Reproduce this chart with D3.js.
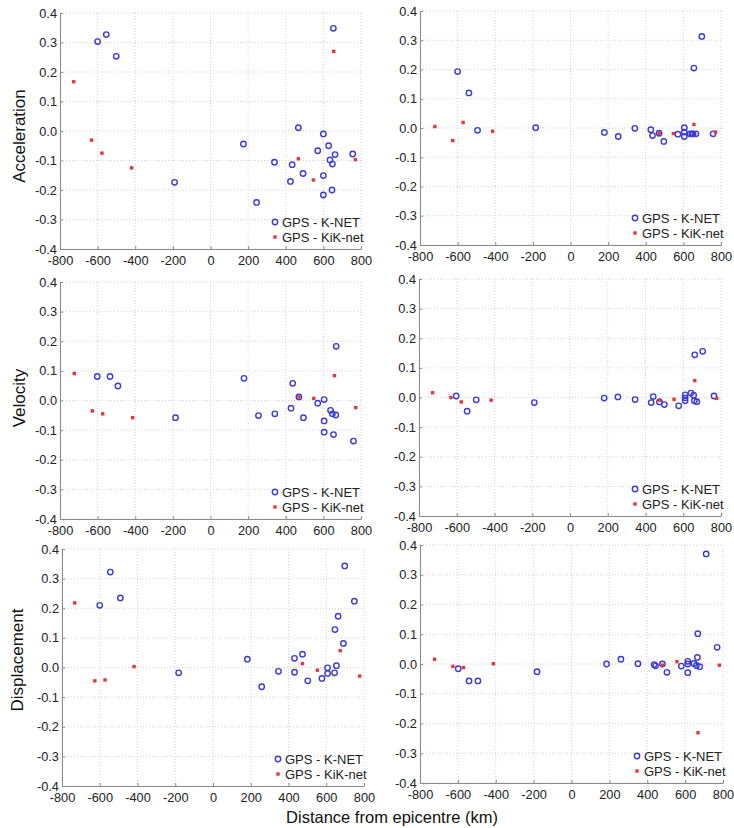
<!DOCTYPE html>
<html>
<head>
<meta charset="utf-8">
<script src="https://cdn.jsdelivr.net/npm/d3@7"></script>
<style>
  body { margin: 0; background: #fff; }
  svg { font-family: "Liberation Sans", Arial, sans-serif; }
</style>
</head>
<body>
<div id="chart"></div>
<script>
// tick values shared by every panel
var xTicks = [-800, -600, -400, -200, 0, 200, 400, 600, 800];
var yTicks = [-0.4, -0.3, -0.2, -0.1, 0, 0.1, 0.2, 0.3, 0.4];
var seriesNames = ["GPS - K-NET", "GPS - KiK-net"];
var rowLabels = ["Acceleration", "Velocity", "Displacement"];
var xLabel = "Distance from epicentre (km)";

// [distance km, value]
var accLeftKnet = [[-600,0.303],[-554,0.327],[-501,0.253],[-191,-0.174],[175,-0.044],[245,-0.242],[340,-0.106],[425,-0.171],[434,-0.114],[467,0.011],[492,-0.144],[570,-0.067],[600,-0.010],[600,-0.151],[600,-0.217],[628,-0.050],[635,-0.098],[648,-0.112],[646,-0.200],[653,0.348],[662,-0.080],[756,-0.078]];
var accLeftKik = [[-727,0.167],[-632,-0.031],[-577,-0.075],[-419,-0.125],[467,-0.094],[547,-0.166],[655,0.270],[770,-0.097]];

var accRightKnet = [[-600,0.193],[-540,0.120],[-494,-0.008],[-185,0.001],[180,-0.015],[254,-0.029],[342,-0.001],[427,-0.006],[436,-0.026],[471,-0.018],[496,-0.046],[571,-0.021],[605,0.001],[605,-0.014],[605,-0.029],[635,-0.020],[645,-0.020],[652,-0.020],[667,-0.020],[656,0.205],[698,0.313],[758,-0.020]];
var accRightKik = [[-721,0.005],[-626,-0.043],[-571,0.019],[-414,-0.011],[471,-0.018],[547,-0.019],[656,0.012],[771,-0.014]];

var velLeftKnet = [[-602,0.081],[-534,0.081],[-492,0.049],[-186,-0.058],[178,0.075],[255,-0.051],[342,-0.045],[428,-0.026],[437,0.058],[470,0.012],[494,-0.058],[570,-0.009],[604,0.003],[604,-0.069],[604,-0.107],[638,-0.033],[648,-0.045],[654,-0.115],[666,-0.049],[668,0.183],[760,-0.137]];
var velLeftKik = [[-724,0.091],[-628,-0.035],[-573,-0.045],[-414,-0.058],[470,0.012],[549,0.007],[659,0.084],[772,-0.024]];

var velRightKnet = [[-603,0.005],[-545,-0.046],[-497,-0.008],[-189,-0.017],[181,-0.002],[254,0.002],[345,-0.007],[430,-0.017],[441,0.003],[474,-0.015],[500,-0.024],[576,-0.028],[610,0.009],[610,-0.001],[610,-0.011],[641,0.015],[655,0.008],[659,-0.011],[672,-0.014],[661,0.144],[703,0.156],[763,0.005]];
var velRightKik = [[-728,0.016],[-631,0.000],[-576,-0.015],[-418,-0.009],[474,-0.009],[551,-0.006],[661,0.057],[777,-0.003]];

var dispLeftKnet = [[-600,0.210],[-544,0.322],[-491,0.235],[-182,-0.018],[182,0.028],[258,-0.065],[347,-0.013],[432,0.031],[432,-0.016],[474,0.045],[502,-0.045],[577,-0.037],[607,-0.001],[607,-0.020],[644,-0.018],[654,0.006],[646,0.128],[663,0.173],[691,0.081],[698,0.343],[749,0.224]];
var dispLeftKik = [[-733,0.218],[-626,-0.045],[-572,-0.042],[-418,0.003],[474,0.013],[553,-0.009],[674,0.057],[777,-0.029]];

var dispRightKnet = [[-598,-0.016],[-541,-0.057],[-494,-0.057],[-182,-0.026],[185,0.000],[261,0.016],[351,0.001],[436,-0.002],[444,-0.006],[480,0.000],[504,-0.028],[580,-0.007],[614,0.009],[614,0.000],[614,-0.029],[647,0.002],[660,-0.005],[677,-0.009],[665,0.022],[667,0.102],[711,0.370],[769,0.056]];
var dispRightKik = [[-723,0.016],[-626,-0.008],[-570,-0.012],[-413,0.001],[480,-0.004],[557,0.008],[668,-0.231],[781,-0.004]];

var W = 734, H = 828;
var blue = "#3b3bd6", red = "#e8353a";

var svg = d3.select("#chart").append("svg")
    .attr("width", W)
    .attr("height", H);

// plot boxes: left, right, top, bottom
var panels = [
  {box: [60, 361, 13, 249], knet: accLeftKnet, kik: accLeftKik},
  {box: [420, 721, 11, 245], knet: accRightKnet, kik: accRightKik},
  {box: [60, 361, 282, 519], knet: velLeftKnet, kik: velLeftKik},
  {box: [419, 721, 279, 516], knet: velRightKnet, kik: velRightKik},
  {box: [62, 364, 549, 786], knet: dispLeftKnet, kik: dispLeftKik},
  {box: [420, 723, 545, 783], knet: dispRightKnet, kik: dispRightKik}
];

var fmtY = function(v){ return (Math.abs(v) < 1e-9 ? 0 : v).toFixed(1); };

panels.forEach(function(p){
  var b = p.box;
  var x = d3.scaleLinear().domain([-800, 800]).range([b[0], b[1]]);
  var y = d3.scaleLinear().domain([-0.4, 0.4]).range([b[3], b[2]]);
  var g = svg.append("g");

  // dotted grid
  g.selectAll(".vg").data(xTicks).enter().append("line")
    .attr("x1", d => x(d)).attr("x2", d => x(d))
    .attr("y1", b[2]).attr("y2", b[3])
    .attr("stroke", "#c8c8c8").attr("stroke-width", 0.8)
    .attr("stroke-dasharray", "1,2");
  g.selectAll(".hg").data(yTicks).enter().append("line")
    .attr("x1", b[0]).attr("x2", b[1])
    .attr("y1", d => y(d)).attr("y2", d => y(d))
    .attr("stroke", "#c8c8c8").attr("stroke-width", 0.8)
    .attr("stroke-dasharray", "1,2");

  var xAxis = g.append("g")
    .attr("transform", "translate(0," + b[3] + ")")
    .call(d3.axisBottom(x).tickValues(xTicks).tickSizeInner(-3).tickSizeOuter(0)
      .tickPadding(7).tickFormat(d => String(d)));
  var yAxis = g.append("g")
    .attr("transform", "translate(" + b[0] + ",0)")
    .call(d3.axisLeft(y).tickValues(yTicks).tickSizeInner(-3).tickSizeOuter(0)
      .tickPadding(3).tickFormat(fmtY));

  [xAxis, yAxis].forEach(function(a){
    a.select(".domain").attr("stroke", "#8a8a8a");
    a.selectAll(".tick line").attr("stroke", "#8a8a8a");
    a.selectAll("text").attr("font-size", 12.8).attr("fill", "#222")
      .attr("font-family", "'Liberation Sans', Arial, sans-serif");
  });

  // K-NET circles
  g.selectAll(".kn").data(p.knet).enter().append("circle")
    .attr("cx", d => x(d[0])).attr("cy", d => y(d[1]))
    .attr("r", 2.7).attr("fill", "none")
    .attr("stroke", blue).attr("stroke-width", 1.4);

  // KiK-net small x markers
  g.selectAll(".kk").data(p.kik).enter().append("rect")
    .attr("x", d => x(d[0]) - 1.7).attr("y", d => y(d[1]) - 1.7)
    .attr("width", 3.4).attr("height", 3.4)
    .attr("fill", red);

  // legend
  var lx = b[1] - 86, ly = b[3] - 27;
  g.append("circle").attr("cx", lx).attr("cy", ly).attr("r", 2.7)
    .attr("fill", "none").attr("stroke", blue).attr("stroke-width", 1.4);
  g.append("rect").attr("x", lx - 1.7).attr("y", ly + 15 - 1.7)
    .attr("width", 3.4).attr("height", 3.4).attr("fill", red);
  seriesNames.forEach(function(s, i){
    g.append("text")
      .attr("x", lx + 7).attr("y", ly + 15 * i + 4.5)
      .attr("font-size", 13).attr("fill", "#222")
      .text(s);
  });
});

// row titles
var rowCenters = [136, 398, 660];
rowLabels.forEach(function(t, i){
  svg.append("text")
    .attr("transform", "translate(" + (i == 2 ? 23 : 25) + "," + rowCenters[i] + ") rotate(-90)")
    .attr("text-anchor", "middle")
    .attr("font-size", 17).attr("fill", "#111")
    .text(t);
});

svg.append("text")
  .attr("x", 392).attr("y", 823)
  .attr("text-anchor", "middle")
  .attr("font-size", 16.5).attr("fill", "#111")
  .text(xLabel);
</script>
</body>
</html>
